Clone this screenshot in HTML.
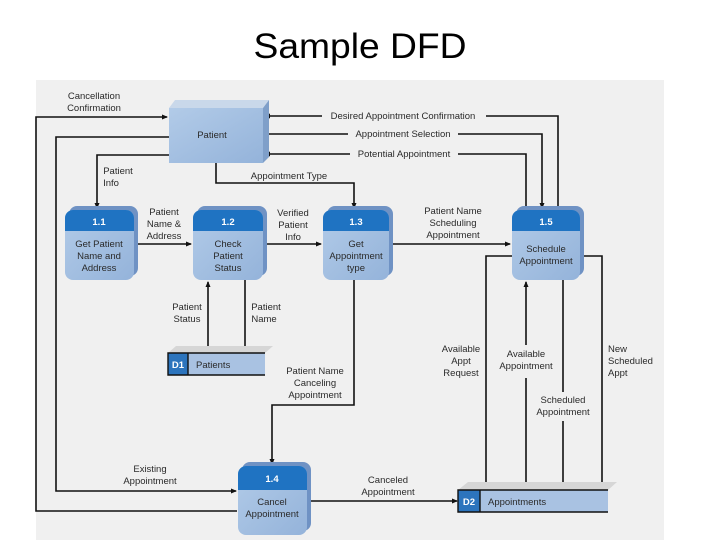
<!DOCTYPE html>
<html><head><meta charset="utf-8"><style>
body{margin:0;background:#fff;width:720px;height:540px;overflow:hidden}
svg{display:block}
text{font-family:"Liberation Sans",Arial,sans-serif;fill:#2a2a2a;font-size:9.5px}
.w{fill:#fff;font-weight:bold;font-size:9.5px}
.l{stroke:#111;stroke-width:1.6;fill:none}
</style></head><body>
<svg width="720" height="540" viewBox="0 0 720 540">
<defs>
<marker id="a" markerWidth="6" markerHeight="6" refX="5" refY="3" orient="auto" markerUnits="userSpaceOnUse"><path d="M0,0.5 L6,3 L0,5.5 z" fill="#111"/></marker>
<linearGradient id="g" x1="0" y1="0" x2="1" y2="1"><stop offset="0" stop-color="#b2cbe8"/><stop offset="1" stop-color="#94b3da"/></linearGradient>
</defs>
<text x="360" y="58" text-anchor="middle" style="font-size:35px;fill:#000" textLength="213" lengthAdjust="spacingAndGlyphs">Sample DFD</text>
<rect x="36" y="80" width="628" height="460" fill="#f0f0f0"/>

<!-- lines -->
<polyline class="l" points="237,511 36,511 36,117 167,117" marker-end="url(#a)"/>
<polyline class="l" points="169,137 56,137 56,491 236,491" marker-end="url(#a)"/>
<polyline class="l" points="169,155 97,155 97,208" marker-end="url(#a)"/>
<polyline class="l" points="216,163 216,183 354,183 354,208" marker-end="url(#a)"/>
<line class="l" x1="134" y1="244" x2="191" y2="244" marker-end="url(#a)"/>
<line class="l" x1="263" y1="244" x2="321" y2="244" marker-end="url(#a)"/>
<line class="l" x1="389" y1="244" x2="510" y2="244" marker-end="url(#a)"/>
<polyline class="l" points="558,210 558,116 486,116"/>
<line class="l" x1="322" y1="116" x2="265" y2="116" marker-end="url(#a)"/>
<polyline class="l" points="263,134 348,134"/>
<polyline class="l" points="458,134 542,134 542,208" marker-end="url(#a)"/>
<polyline class="l" points="526,210 526,154 458,154"/>
<line class="l" x1="350" y1="154" x2="265" y2="154" marker-end="url(#a)"/>
<line class="l" x1="208" y1="353" x2="208" y2="282" marker-end="url(#a)"/>
<line class="l" x1="245" y1="280" x2="245" y2="351" marker-end="url(#a)"/>
<polyline class="l" points="354,280 354,405 272,405 272,464" marker-end="url(#a)"/>
<line class="l" x1="307" y1="501" x2="457" y2="501" marker-end="url(#a)"/>
<polyline class="l" points="512,256 486,256 486,488" marker-end="url(#a)"/>
<line class="l" x1="526" y1="490" x2="526" y2="378"/>
<line class="l" x1="526" y1="345" x2="526" y2="282" marker-end="url(#a)"/>
<line class="l" x1="563" y1="280" x2="563" y2="392"/>
<line class="l" x1="563" y1="421" x2="563" y2="488" marker-end="url(#a)"/>
<polyline class="l" points="580,256 602,256 602,488" marker-end="url(#a)"/>

<!-- Patient -->
<polygon points="169,108 175,100 269,100 263,108" fill="#c9d8ea"/>
<polygon points="263,108 269,100 269,157 263,163" fill="#7f9fc9"/>
<rect x="169" y="108" width="94" height="55" fill="url(#g)"/>
<text x="212" y="138" text-anchor="middle">Patient</text>

<!-- processes -->
<g id="p">
</g>
<g>
<rect x="69" y="206" width="69" height="70" rx="8" fill="#6f92c4"/>
<rect x="65" y="210" width="69" height="70" rx="8" fill="url(#g)"/>
<path d="M65,231 V218 a8,8 0 0 1 8,-8 H126 a8,8 0 0 1 8,8 V231 z" fill="#1f73c2"/>
<text class="w" x="99" y="225" text-anchor="middle">1.1</text>
<text x="99" y="247" text-anchor="middle">Get Patient</text><text x="99" y="259" text-anchor="middle">Name and</text><text x="99" y="271" text-anchor="middle">Address</text>
</g>
<g>
<rect x="197" y="206" width="70" height="70" rx="8" fill="#6f92c4"/>
<rect x="193" y="210" width="70" height="70" rx="8" fill="url(#g)"/>
<path d="M193,231 V218 a8,8 0 0 1 8,-8 H255 a8,8 0 0 1 8,8 V231 z" fill="#1f73c2"/>
<text class="w" x="228" y="225" text-anchor="middle">1.2</text>
<text x="228" y="247" text-anchor="middle">Check</text><text x="228" y="259" text-anchor="middle">Patient</text><text x="228" y="271" text-anchor="middle">Status</text>
</g>
<g>
<rect x="327" y="206" width="66" height="70" rx="8" fill="#6f92c4"/>
<rect x="323" y="210" width="66" height="70" rx="8" fill="url(#g)"/>
<path d="M323,231 V218 a8,8 0 0 1 8,-8 H381 a8,8 0 0 1 8,8 V231 z" fill="#1f73c2"/>
<text class="w" x="356" y="225" text-anchor="middle">1.3</text>
<text x="356" y="247" text-anchor="middle">Get</text><text x="356" y="259" text-anchor="middle">Appointment</text><text x="356" y="271" text-anchor="middle">type</text>
</g>
<g>
<rect x="516" y="206" width="68" height="70" rx="8" fill="#6f92c4"/>
<rect x="512" y="210" width="68" height="70" rx="8" fill="url(#g)"/>
<path d="M512,231 V218 a8,8 0 0 1 8,-8 H572 a8,8 0 0 1 8,8 V231 z" fill="#1f73c2"/>
<text class="w" x="546" y="225" text-anchor="middle">1.5</text>
<text x="546" y="252" text-anchor="middle">Schedule</text><text x="546" y="264" text-anchor="middle">Appointment</text>
</g>
<g>
<rect x="242" y="462" width="69" height="69" rx="8" fill="#6f92c4"/>
<rect x="238" y="466" width="69" height="69" rx="8" fill="url(#g)"/>
<path d="M238,490 V474 a8,8 0 0 1 8,-8 H299 a8,8 0 0 1 8,8 V490 z" fill="#1f73c2"/>
<text class="w" x="272" y="482" text-anchor="middle">1.4</text>
<text x="272" y="505" text-anchor="middle">Cancel</text><text x="272" y="517" text-anchor="middle">Appointment</text>
</g>

<!-- stores -->
<polygon points="168,353 176,346 273,346 265,353" fill="#d6d6d6"/>
<rect x="168" y="353" width="97" height="22" fill="#a9c2e2"/>
<rect x="168" y="353" width="20" height="22" fill="#2c74bd"/>
<path d="M265,353 H168 V375 H265 M188,353 V375" stroke="#111" stroke-width="1.4" fill="none"/>
<text class="w" x="178" y="368" text-anchor="middle">D1</text>
<text x="196" y="368">Patients</text>

<polygon points="458,490 468,482 617,482 608,490" fill="#d6d6d6"/>
<rect x="458" y="490" width="150" height="22" fill="#a9c2e2"/>
<rect x="458" y="490" width="22" height="22" fill="#2c74bd"/>
<path d="M608,490 H458 V512 H608 M480,490 V512" stroke="#111" stroke-width="1.4" fill="none"/>
<text class="w" x="469" y="505" text-anchor="middle">D2</text>
<text x="488" y="505">Appointments</text>

<!-- labels -->
<g text-anchor="middle">
<text x="94" y="99">Cancellation</text><text x="94" y="111">Confirmation</text>
<text x="118" y="174">Patient</text><text x="111" y="186">Info</text>
<text x="289" y="179">Appointment Type</text>
<text x="164" y="215">Patient</text><text x="164" y="227">Name &amp;</text><text x="164" y="239">Address</text>
<text x="293" y="216">Verified</text><text x="293" y="228">Patient</text><text x="293" y="240">Info</text>
<text x="453" y="214">Patient Name</text><text x="453" y="226">Scheduling</text><text x="453" y="238">Appointment</text>
<text x="403" y="119">Desired Appointment Confirmation</text>
<text x="403" y="137">Appointment Selection</text>
<text x="404" y="157">Potential Appointment</text>
<text x="187" y="310">Patient</text><text x="187" y="322">Status</text>
<text x="266" y="310">Patient</text><text x="264" y="322">Name</text>
<text x="315" y="374">Patient Name</text><text x="315" y="386">Canceling</text><text x="315" y="398">Appointment</text>
<text x="461" y="352">Available</text><text x="461" y="364">Appt</text><text x="461" y="376">Request</text>
<text x="526" y="357">Available</text><text x="526" y="369">Appointment</text>
<text x="563" y="403">Scheduled</text><text x="563" y="415">Appointment</text>
<text x="150" y="472">Existing</text><text x="150" y="484">Appointment</text>
<text x="388" y="483">Canceled</text><text x="388" y="495">Appointment</text>
</g>
<text x="608" y="352">New</text><text x="608" y="364">Scheduled</text><text x="608" y="376">Appt</text>
</svg>
</body></html>
